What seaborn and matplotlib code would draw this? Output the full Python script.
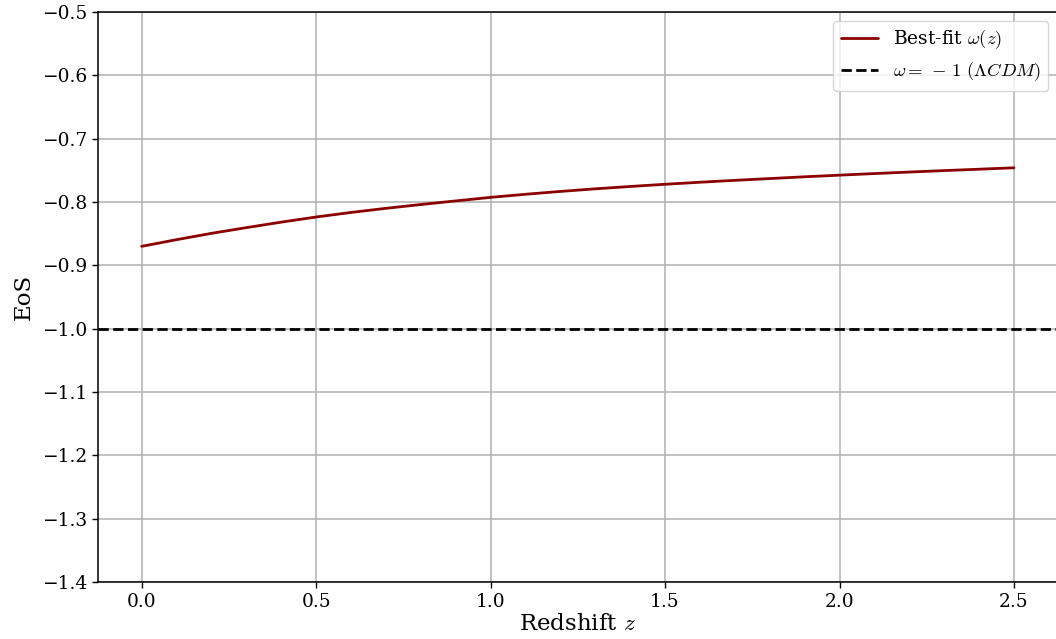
import numpy as np
import pandas as pd
import matplotlib
matplotlib.use("Agg")
import matplotlib.pyplot as plt
import seaborn as sns

# Data
redshift = [0.0, 0.1, 0.2, 0.3, 0.4, 0.5, 0.6, 0.7, 0.8, 0.9, 1.0, 1.1, 1.2,
            1.3, 1.4, 1.5, 1.6, 1.7, 1.8, 1.9, 2.0, 2.1, 2.2, 2.3, 2.4, 2.5]
eos_bestfit = [-0.870, -0.8595, -0.8495, -0.8405, -0.8318, -0.8237, -0.8165,
               -0.8100, -0.8040, -0.7983, -0.7927, -0.7878, -0.7833, -0.7792,
               -0.7755, -0.7720, -0.7688, -0.7658, -0.7630, -0.7602, -0.7576,
               -0.7551, -0.7527, -0.7504, -0.7482, -0.7460]
lcdm_value = -1.0
y_ticks = [-1.4, -1.3, -1.2, -1.1, -1.0, -0.9, -0.8, -0.7, -0.6, -0.5]
x_ticks = [0.0, 0.5, 1.0, 1.5, 2.0, 2.5]

sns.set_style("ticks")
plt.rcParams['font.family'] = ['DejaVu Serif']
plt.rcParams['mathtext.fontset'] = 'cm'
plt.rcParams['axes.unicode_minus'] = True
plt.rcParams['text.color'] = 'black'
plt.rcParams['axes.labelcolor'] = 'black'
plt.rcParams['xtick.color'] = 'black'
plt.rcParams['ytick.color'] = 'black'

fig = plt.figure(figsize=(10.56, 6.39), dpi=100)
ax = fig.add_axes([98/1056, 1 - 582/639, (1057.6 - 98)/1056, (582 - 12)/639])

df = pd.DataFrame({"z": redshift, "w": eos_bestfit})
sns.lineplot(data=df, x="z", y="w", ax=ax, color="darkred", linewidth=2,
             label=r"Best-fit $\omega(z)$")
ax.axhline(lcdm_value, color="black", linestyle="--", linewidth=2,
           label=r"$\omega = \,-\,1\ (\Lambda CDM)$")

ax.set_xlim(-0.125, 2.625)
ax.set_ylim(-1.4, -0.5)
ax.set_xticks(x_ticks)
ax.set_yticks(y_ticks)
ax.tick_params(labelsize=13.4, length=4.5, width=1.0, colors="black")
ax.set_xlabel(r"Redshift $z$", fontsize=16.5, labelpad=1)
ax.set_ylabel("EoS", fontsize=16.5, labelpad=5)
ax.grid(True, color="#b0b0b0", linewidth=1.1)
ax.set_axisbelow(True)
for s in ax.spines.values():
    s.set_color("black")
    s.set_linewidth(1.1)
ax.legend(loc="upper right", fontsize=13.4, frameon=True)

fig.savefig("out.png", dpi=100)
